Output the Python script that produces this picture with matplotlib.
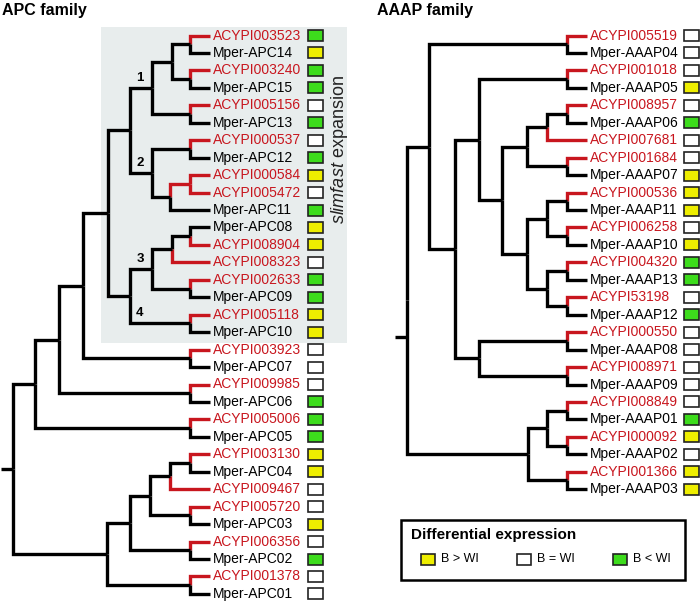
import matplotlib.pyplot as plt
from matplotlib.patches import Rectangle

plt.rcParams['font.family'] = ['Liberation Sans', 'DejaVu Sans']
plt.rcParams['mathtext.fontset'] = 'custom'
plt.rcParams['mathtext.rm'] = 'Liberation Sans'
plt.rcParams['mathtext.it'] = 'Liberation Sans:italic'

RED = '#c8161e'
LW = 2.4
BOX_COLORS = {'Y': '#eeee00', 'W': '#ffffff', 'G': '#3ddc1c'}

# trees: (node depth, [children], optional clade label); leaves are gene names
apc_tree = (13, [
    (35, [
        (59, [
            (83, [
                (108, [
                    (130, [
                        (152, [
                            (172, [
                                (190, ['ACYPI003523', 'Mper-APC14']),
                                (190, ['ACYPI003240', 'Mper-APC15'])]),
                            (190, ['ACYPI005156', 'Mper-APC13'])], '1'),
                        (152, [
                            (190, ['ACYPI000537', 'Mper-APC12']),
                            (170, [
                                (190, ['ACYPI000584', 'ACYPI005472']),
                                'Mper-APC11'])], '2')]),
                    (130, [
                        (152, [
                            (172, [
                                (190, ['Mper-APC08', 'ACYPI008904']),
                                'ACYPI008323']),
                            (190, ['ACYPI002633', 'Mper-APC09'])], '3'),
                        (190, ['ACYPI005118', 'Mper-APC10'], '4')])]),
                (190, ['ACYPI003923', 'Mper-APC07'])]),
            (190, ['ACYPI009985', 'Mper-APC06'])]),
        (190, ['ACYPI005006', 'Mper-APC05'])]),
    (107, [
        (130, [
            (150, [
                (170, [
                    (190, ['ACYPI003130', 'Mper-APC04']),
                    'ACYPI009467']),
                (190, ['ACYPI005720', 'Mper-APC03'])]),
            (190, ['ACYPI006356', 'Mper-APC02'])]),
        (190, ['ACYPI001378', 'Mper-APC01'])])])

aaap_tree = (407, [
    (429, [
        (567, ['ACYPI005519', 'Mper-AAAP04']),
        (455, [
            (479, [
                (567, ['ACYPI001018', 'Mper-AAAP05']),
                (502, [
                    (527, [
                        (547, [
                            (567, ['ACYPI008957', 'Mper-AAAP06']),
                            'ACYPI007681']),
                        (567, ['ACYPI001684', 'Mper-AAAP07'])]),
                    (527, [
                        (547, [
                            (567, ['ACYPI000536', 'Mper-AAAP11']),
                            (567, ['ACYPI006258', 'Mper-AAAP10'])]),
                        (547, [
                            (567, ['ACYPI004320', 'Mper-AAAP13']),
                            (567, ['ACYPI53198', 'Mper-AAAP12'])])])])]),
            (479, [
                (567, ['ACYPI000550', 'Mper-AAAP08']),
                (567, ['ACYPI008971', 'Mper-AAAP09'])])])]),
    (528, [
        (547, [
            (567, ['ACYPI008849', 'Mper-AAAP01']),
            (567, ['ACYPI000092', 'Mper-AAAP02'])]),
        (567, ['ACYPI001366', 'Mper-AAAP03'])])])

# differential expression, in leaf order (Y: B > WI, W: B = WI, G: B < WI)
apc_expr = ['G', 'Y', 'G', 'G', 'W', 'G', 'W', 'G', 'Y', 'W', 'G',
            'Y', 'Y', 'W', 'G', 'G', 'Y', 'Y', 'W', 'W', 'W', 'G',
            'G', 'G', 'Y', 'Y', 'W', 'W', 'Y', 'W', 'G', 'W', 'W']
aaap_expr = ['W', 'W', 'W', 'Y', 'W', 'G', 'W', 'W', 'Y', 'Y', 'Y',
             'W', 'Y', 'G', 'G', 'W', 'G', 'W', 'W', 'W', 'W', 'W',
             'G', 'Y', 'W', 'Y', 'Y']
aaap_root_row = 17.3  # root stub sits off-centre in the original

legend_keys = ['Y', 'W', 'G']
legend_labels = ['B > WI', 'B = WI', 'B < WI']

ROW0, STEP = 35.5, 17.45


def leaves_of(node):
    if isinstance(node, str):
        return [node]
    out = []
    for k in node[1]:
        out += leaves_of(k)
    return out


def draw_clade(ax, node, tip_x, rows):
    if isinstance(node, str):
        return tip_x, rows[node], node.startswith('ACYPI'), None
    x, kids = node[0], node[1]
    pos = [draw_clade(ax, k, tip_x, rows) for k in kids]
    y = (pos[0][1] + pos[-1][1]) / 2
    for cx, cy, red, lab in pos:
        ax.plot([x, x, cx], [y, cy, cy], color=RED if red else 'black', lw=LW,
                solid_joinstyle='miter', solid_capstyle='butt')
        if lab:
            ax.text(x + 10, cy - 4, lab, ha='center', va='bottom',
                    fontsize=9.5, fontweight='bold')
    lab = node[2] if len(node) > 2 else None
    return x, y, all(p[2] for p in pos), lab


def draw_tree(ax, tree, expr, tip_x, box_x, root_row=None):
    names = leaves_of(tree)
    rows = {n: ROW0 + i * STEP for i, n in enumerate(names)}
    x, y, _, _ = draw_clade(ax, tree, tip_x, rows)
    if root_row is not None:
        y = ROW0 + root_row * STEP
    ax.plot([x - 12, x], [y, y], color='black', lw=LW, solid_capstyle='butt')
    for n, e in zip(names, expr):
        ax.text(tip_x + 3, rows[n], n, va='center', ha='left', fontsize=10,
                color=RED if n.startswith('ACYPI') else 'black')
        ax.add_patch(Rectangle((box_x - 7.5, rows[n] - 5.5), 15, 11,
                               facecolor=BOX_COLORS[e], edgecolor='#222222', lw=1.2))


fig = plt.figure(figsize=(7, 6.04), dpi=100)
ax = fig.add_axes([0, 0, 1, 1])
ax.set_xlim(0, 700)
ax.set_ylim(604, 0)
ax.axis('off')

# slimfast expansion shading
ax.add_patch(Rectangle((101, 27), 246, 316, facecolor='#e8eded', edgecolor='none', zorder=0))
ax.text(339, 150, r'$\it{slimfast}$ expansion', rotation=90, ha='center', va='center',
        fontsize=13, color='#222222')

draw_tree(ax, apc_tree, apc_expr, 210, 315)
draw_tree(ax, aaap_tree, aaap_expr, 587, 691, aaap_root_row)

ax.text(2, 11, 'APC family', fontsize=11.5, fontweight='bold', va='center')
ax.text(377, 11, 'AAAP family', fontsize=11.5, fontweight='bold', va='center')

# legend
ax.add_patch(Rectangle((401, 520), 284, 60, facecolor='white', edgecolor='black', lw=1.8))
ax.text(411, 535, 'Differential expression', fontsize=11, fontweight='bold', va='center')
for i, (k, lab) in enumerate(zip(legend_keys, legend_labels)):
    bx = 428 + i * 96
    ax.add_patch(Rectangle((bx - 7, 553.5), 14, 11, facecolor=BOX_COLORS[k],
                           edgecolor='#222222', lw=1.2))
    ax.text(bx + 13, 559, lab, fontsize=9, va='center')

fig.savefig('out.png', dpi=100)
